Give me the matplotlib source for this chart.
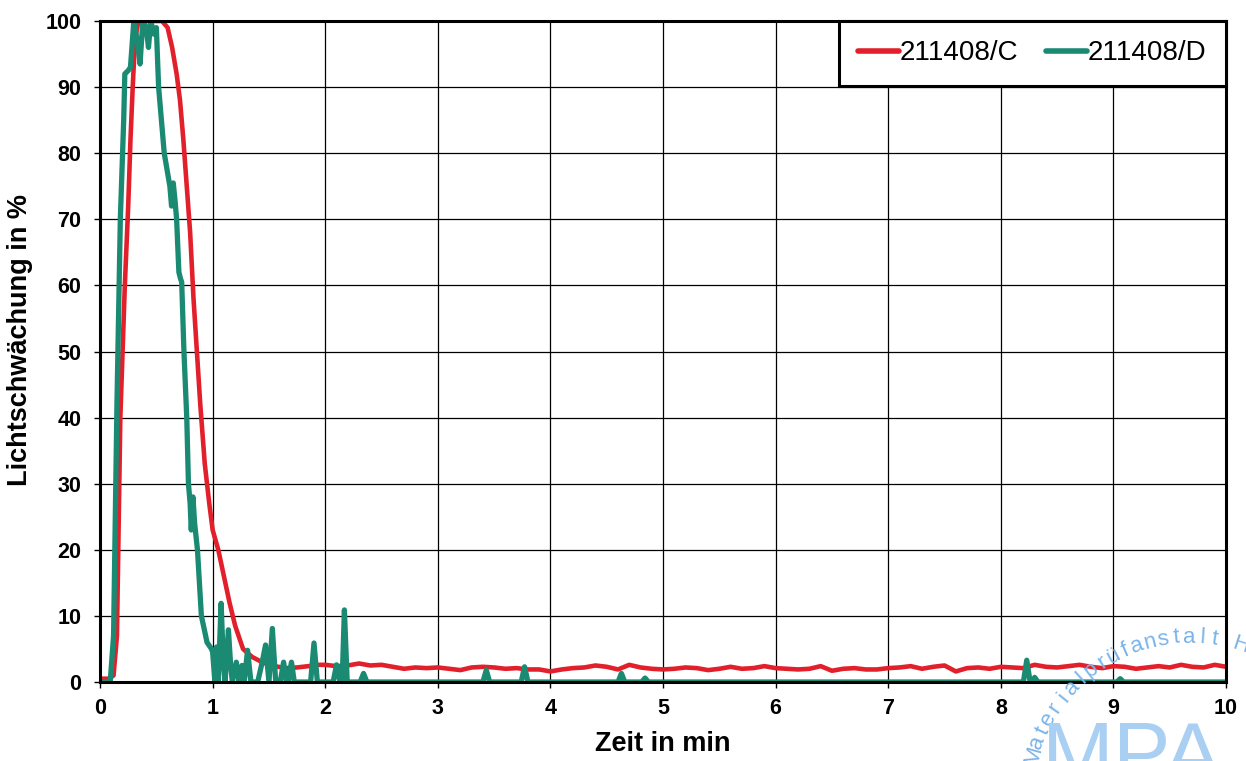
import numpy as np
import matplotlib
matplotlib.use("Agg")
import matplotlib.pyplot as plt

plt.rcParams['font.family'] = ['Liberation Sans', 'DejaVu Sans']

# Probe C: main peak, then noisy baseline
c_time = [0.0, 0.08, 0.12, 0.15, 0.18, 0.22, 0.25, 0.27, 0.29, 0.31, 0.34, 0.55, 0.60,
          0.64, 0.68, 0.71, 0.74, 0.77, 0.80, 0.83, 0.86, 0.89, 0.93, 0.97, 1.00, 1.05,
          1.10, 1.15, 1.20, 1.27, 1.35, 1.45, 1.55, 1.65, 1.75, 1.85, 1.95]
c_value = [0.5, 0.5, 1.0, 7.0, 40.0, 60.0, 72.0, 82.0, 90.0, 97.0, 100.0, 100.0, 99.0,
           96.0, 92.0, 88.0, 82.0, 75.0, 68.0, 58.0, 50.0, 42.0, 33.0, 27.0, 23.0, 20.0,
           16.0, 12.0, 8.5, 5.0, 3.8, 2.9, 2.4, 2.1, 2.2, 2.4, 2.6]
c_tail_time = [2.0, 2.1, 2.2, 2.3, 2.4, 2.5, 2.6, 2.7, 2.8, 2.9, 3.0, 3.1, 3.2, 3.3, 3.4,
               3.5, 3.6, 3.7, 3.8, 3.9, 4.0, 4.1, 4.2, 4.3, 4.4, 4.5, 4.6, 4.7, 4.8, 4.9,
               5.0, 5.1, 5.2, 5.3, 5.4, 5.5, 5.6, 5.7, 5.8, 5.9, 6.0, 6.1, 6.2, 6.3, 6.4,
               6.5, 6.6, 6.7, 6.8, 6.9, 7.0, 7.1, 7.2, 7.3, 7.4, 7.5, 7.6, 7.7, 7.8, 7.9,
               8.0, 8.1, 8.2, 8.3, 8.4, 8.5, 8.6, 8.7, 8.8, 8.9, 9.0, 9.1, 9.2, 9.3, 9.4,
               9.5, 9.6, 9.7, 9.8, 9.9, 10.0]
c_tail_value = [2.6, 2.4, 2.5, 2.8, 2.5, 2.6, 2.3, 2.0, 2.2, 2.1, 2.2, 2.0, 1.8, 2.2, 2.3,
                2.2, 2.0, 2.1, 1.9, 1.9, 1.6, 1.9, 2.1, 2.2, 2.5, 2.3, 1.9, 2.6, 2.2, 2.0,
                1.9, 2.0, 2.2, 2.1, 1.8, 2.0, 2.3, 2.0, 2.1, 2.4, 2.1, 2.0, 1.9, 2.0, 2.4,
                1.7, 2.0, 2.1, 1.9, 1.9, 2.1, 2.2, 2.4, 2.0, 2.3, 2.5, 1.6, 2.1, 2.2, 2.0,
                2.3, 2.2, 2.1, 2.6, 2.3, 2.2, 2.4, 2.6, 2.3, 2.1, 2.4, 2.3, 2.0, 2.2, 2.4,
                2.2, 2.6, 2.3, 2.2, 2.6, 2.3]

# Probe D: earlier peak, falls faster, then spikes down to zero
d_time = [0.0, 0.09, 0.12, 0.15, 0.18, 0.21, 0.22, 0.25, 0.27, 0.30, 0.33, 0.355, 0.38,
          0.41, 0.43, 0.45, 0.48, 0.50, 0.52, 0.57, 0.62, 0.635, 0.65, 0.665, 0.68, 0.70,
          0.715, 0.725, 0.745, 0.77, 0.785, 0.80, 0.81, 0.825, 0.84, 0.865, 0.90, 0.95,
          0.99, 1.00, 1.02, 1.035, 1.05, 1.075, 1.095, 1.11, 1.14, 1.16, 1.175, 1.21,
          1.235, 1.26, 1.28, 1.31, 1.34, 1.40, 1.44, 1.47, 1.50, 1.53, 1.56, 1.60, 1.63,
          1.655, 1.67, 1.70, 1.725, 1.87, 1.90, 1.93, 2.07, 2.10, 2.13, 2.15, 2.17, 2.195,
          2.31, 2.34, 2.37, 3.40, 3.43, 3.46, 3.74, 3.77, 3.80, 4.60, 4.63, 4.66, 4.81,
          4.84, 4.87, 8.20, 8.23, 8.26, 8.28, 8.30, 8.33, 9.03, 9.06, 9.09, 10.0]
d_value = [0.0, 0.0, 7.0, 42.0, 70.0, 85.0, 92.0, 92.5, 93.0, 100.0, 97.0, 93.5, 100.0,
           99.0, 96.0, 100.0, 98.0, 99.0, 90.0, 80.0, 75.0, 72.0, 75.5, 73.0, 70.0, 62.0,
           61.0, 60.5, 50.0, 40.0, 30.0, 27.0, 23.0, 28.0, 24.0, 20.0, 10.0, 6.0,
           5.0, 4.5, 0.0, 5.3, 0.0, 11.9, 3.0, 0.0, 7.9, 2.5, 0.0, 3.0,
           0.0, 2.5, 0.0, 4.8, 0.0, 0.0, 3.0, 5.6, 0.0, 8.1, 0.0, 0.0, 3.0,
           0.0, 0.0, 3.0, 0.0, 0.0, 5.9, 0.0, 0.0, 2.6, 0.0, 0.0, 10.9, 0.0,
           0.0, 1.3, 0.0, 0.0, 1.8, 0.0, 0.0, 2.3, 0.0, 0.0, 1.3, 0.0, 0.0,
           0.6, 0.0, 0.0, 3.3, 0.0, 0.0, 0.7, 0.0, 0.0, 0.5, 0.0, 0.0]

labels = ["211408/C", "211408/D"]
colors = ["#e2202c", "#1b8a73"]

x_ticks = list(range(0, 11))
y_ticks = list(range(0, 101, 10))

fig = plt.figure(figsize=(12.46, 7.61), dpi=100)
ax = fig.add_axes([0.0803, 0.1038, 0.9037, 0.8686])

ax.plot(c_time + c_tail_time, c_value + c_tail_value, color=colors[0], lw=3.3,
        label=labels[0], solid_joinstyle='round', solid_capstyle='round')
ax.plot(d_time, d_value, color=colors[1], lw=3.8, label=labels[1],
        solid_joinstyle='round', solid_capstyle='round')

ax.set_xlim(0, 10)
ax.set_ylim(0, 100)
ax.set_xticks(x_ticks)
ax.set_yticks(y_ticks)
ax.grid(True, color='black', lw=0.9)
ax.set_axisbelow(True)
for s in ax.spines.values():
    s.set_linewidth(2.2)
ax.tick_params(direction='out', length=4.5, width=1.0, labelsize=15.5)
ax.tick_params(axis='y', pad=9)
ax.tick_params(axis='x', pad=7)
for lab in ax.get_xticklabels() + ax.get_yticklabels():
    lab.set_fontweight('bold')

ax.set_xlabel("Zeit in min", fontsize=19.5, fontweight='bold', labelpad=9)
ax.set_ylabel("Lichtschwächung in %", fontsize=19.5, fontweight='bold')
ax.yaxis.set_label_coords(-0.0595, 0.517)

leg = ax.legend(loc='upper right', bbox_to_anchor=(1.0, 1.0), borderaxespad=0,
                ncol=2, fontsize=20, frameon=True, fancybox=False,
                handlelength=1.45, handletextpad=0.05, columnspacing=1.0,
                borderpad=0.7)
leg.get_frame().set_edgecolor('black')
leg.get_frame().set_linewidth(2.2)
leg.get_frame().set_alpha(1)
for line in leg.get_lines():
    line.set_linewidth(4)

# faint stamp in the lower right corner
stamp = "Materialprüfanstalt H"
cx, cy, r = 1190, 800, 163
angles = np.linspace(164, 72, len(stamp))
for ch, a in zip(stamp, angles):
    px = cx + r * np.cos(np.radians(a))
    py = cy - r * np.sin(np.radians(a))
    fig.text(px / 1246, 1 - py / 761, ch, color='#7ab4ea', fontsize=16,
             rotation=a - 90, ha='center', va='center',
             rotation_mode='anchor')
fig.text(1042 / 1246, 1 - 800 / 761, "MPA", color='#a9cff2', fontsize=62,
         ha='left', va='bottom')

fig.savefig("out.png", dpi=100)
